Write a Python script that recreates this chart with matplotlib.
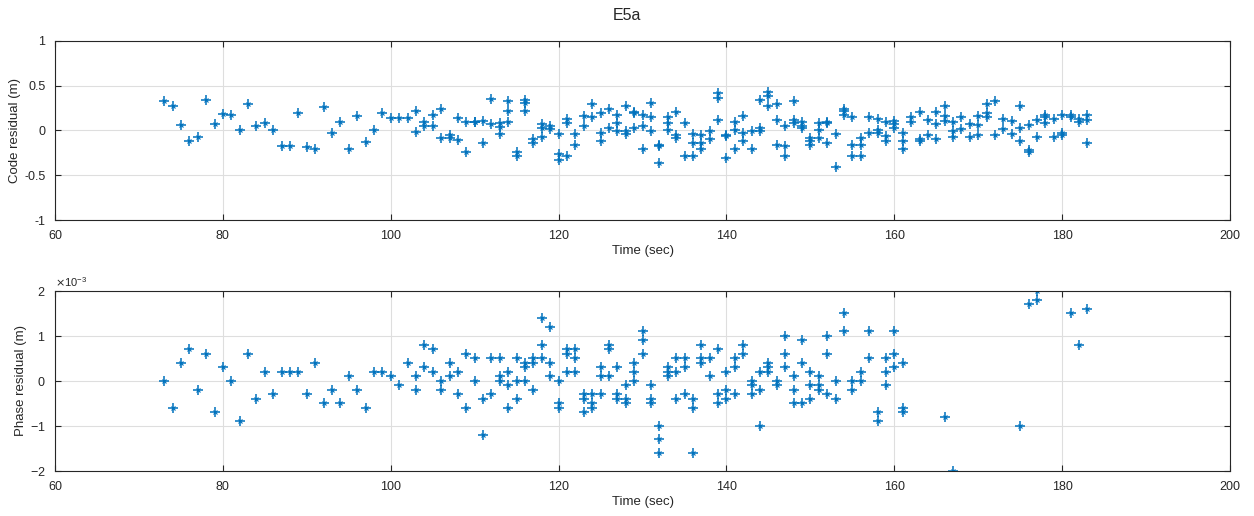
import matplotlib.pyplot as plt
import numpy as np

# residuals per epoch (sec): several satellites can share one epoch
code_epochs = [
    (73, [0.335]), (74, [0.27]), (75, [0.064]), (76, [-0.115]), (77, [-0.078]),
    (78, [0.34]), (79, [0.07]), (80, [0.18]), (81, [0.17]), (82, [0.01]),
    (83, [0.30]), (84, [0.05]), (85, [0.08]), (86, [0.0]), (87, [-0.17]),
    (88, [-0.17]), (89, [0.19]), (90, [-0.18]), (91, [-0.21]), (92, [0.26]),
    (93, [-0.03]), (94, [0.10]), (95, [-0.21]), (96, [0.16]), (97, [-0.13]),
    (98, [0.01]), (99, [0.20]), (100, [0.145]), (101, [0.145]), (102, [0.145]),
    (103, [0.22, -0.02]), (104, [0.10, 0.045]), (105, [0.175, 0.045]),
    (106, [0.24, -0.08]), (107, [-0.05, -0.085]), (108, [0.145, -0.11]),
    (109, [0.09, -0.245]), (110, [0.10, 0.09]), (111, [0.105, -0.14]),
    (112, [0.35, 0.07]), (113, [0.08, 0.04, -0.04]), (114, [0.335, 0.22, 0.09]),
    (115, [-0.235, -0.29]), (116, [0.34, 0.31, 0.22]), (117, [-0.10, -0.14]),
    (118, [0.07, 0.025, -0.07]), (119, [0.045, 0.015]), (120, [-0.04, -0.26, -0.335]),
    (121, [0.13, 0.08, -0.29]), (122, [-0.04, -0.16]), (123, [0.165, 0.05]),
    (124, [0.30, 0.155]), (125, [0.19, -0.03, -0.12]), (126, [0.24, 0.025]),
    (127, [0.175, 0.08, -0.01]), (128, [0.275, -0.01, -0.04]), (129, [0.21, 0.195, 0.025]),
    (130, [0.175, 0.045, -0.21]), (131, [0.31, 0.155, -0.01]), (132, [-0.16, -0.17, -0.36]),
    (133, [0.155, 0.08, 0.01]), (134, [0.21, -0.05, -0.085]), (135, [0.08, -0.29]),
    (136, [-0.04, -0.14, -0.29]), (137, [-0.05, -0.14, -0.21]), (138, [-0.01, -0.10]),
    (139, [0.42, 0.36, 0.12]), (140, [-0.05, -0.065, -0.31]), (141, [0.10, 0.01, -0.21]),
    (142, [0.165, -0.03, -0.115]), (143, [-0.01, -0.21]), (144, [0.34, 0.025, -0.01]),
    (145, [0.425, 0.39, 0.27]), (146, [0.30, 0.12, -0.16]), (147, [0.05, -0.17, -0.29]),
    (148, [0.325, 0.12, 0.08]), (149, [0.10, 0.045, 0.025]), (150, [-0.085, -0.12, -0.16]),
    (151, [0.08, 0.01, -0.085]), (152, [0.10, 0.08, -0.14]), (153, [-0.04, -0.41]),
    (154, [0.24, 0.215, 0.175]), (155, [0.15, -0.16, -0.29]), (156, [-0.085, -0.16, -0.29]),
    (157, [0.155, -0.03]), (158, [0.13, 0.01, -0.03]), (159, [0.09, -0.06, -0.12]),
    (160, [0.105, 0.07, 0.025]), (161, [-0.03, -0.12, -0.21]), (162, [0.15, 0.10]),
    (163, [0.21, -0.10, -0.12]), (164, [0.12, -0.05]), (165, [0.21, 0.07, -0.10]),
    (166, [0.275, 0.165, 0.11]), (167, [0.09, -0.01, -0.075]), (168, [0.15, 0.015]),
    (169, [0.07, -0.075]), (170, [0.165, 0.065, -0.05]), (171, [0.30, 0.19, 0.155]),
    (172, [0.325, -0.05]), (173, [0.13, 0.015]), (174, [0.11, -0.04]),
    (175, [0.275, 0.025, -0.12]), (176, [0.06, -0.22, -0.24]), (177, [0.12, -0.075]),
    (178, [0.175, 0.155, 0.08]), (179, [0.13, -0.075]), (180, [0.17, -0.03, -0.05]),
    (181, [0.17, 0.15]), (182, [0.13, 0.10]), (183, [0.175, 0.12, -0.14]),
]

# phase residuals in mm (scaled to m when plotted)
phase_epochs = [
    (73, [0.0]), (74, [-0.6]), (75, [0.4]), (76, [0.7]), (77, [-0.2]),
    (78, [0.6]), (79, [-0.7]), (80, [0.3]), (81, [0.0]), (82, [-0.9]),
    (83, [0.6]), (84, [-0.4]), (85, [0.2]), (86, [-0.3]), (87, [0.2]),
    (88, [0.2]), (89, [0.2]), (90, [-0.3]), (91, [0.4]), (92, [-0.5]),
    (93, [-0.2]), (94, [-0.5]), (95, [0.1]), (96, [-0.2]), (97, [-0.6]),
    (98, [0.2]), (99, [0.2]), (100, [0.1]), (101, [-0.1]), (102, [0.4]),
    (103, [0.1, -0.2]), (104, [0.8, 0.3]), (105, [0.7, 0.2]), (106, [0.0, -0.2]),
    (107, [0.4, 0.1]), (108, [0.2, -0.3]), (109, [0.6, -0.6]), (110, [0.5, 0.0]),
    (111, [-0.4, -1.2]), (112, [0.5, -0.3]), (113, [0.5, 0.1, 0.0]),
    (114, [0.2, -0.1, -0.6]), (115, [0.5, 0.0, -0.4]), (116, [0.4, 0.3, 0.0]),
    (117, [0.5, 0.4, -0.2]), (118, [1.4, 0.8, 0.5]), (119, [1.2, 0.4, 0.1]),
    (120, [0.0, -0.5, -0.6]), (121, [0.7, 0.6, 0.2]), (122, [0.7, 0.5, 0.2]),
    (123, [-0.3, -0.4, -0.7]), (124, [-0.3, -0.5, -0.6]), (125, [0.3, 0.1, -0.3]),
    (126, [0.8, 0.7, 0.1]), (127, [0.3, -0.3, -0.4]), (128, [-0.1, -0.4, -0.5]),
    (129, [0.4, 0.2, 0.0]), (130, [1.1, 0.9, 0.6]), (131, [-0.1, -0.4, -0.5]),
    (132, [-1.0, -1.3, -1.6]), (133, [0.3, 0.2, 0.1]), (134, [0.5, 0.2, -0.4]),
    (135, [0.5, 0.3, -0.3]), (136, [-0.4, -0.6, -1.6]), (137, [0.8, 0.5, 0.4]),
    (138, [0.5, 0.1]), (139, [0.7, -0.3, -0.5]), (140, [0.2, -0.2, -0.4]),
    (141, [0.5, 0.3, -0.3]), (142, [0.8, 0.6]), (143, [0.0, -0.1, -0.3]),
    (144, [0.2, -0.2, -1.0]), (145, [0.4, 0.3, 0.2]), (146, [0.0, -0.1]),
    (147, [1.0, 0.6, 0.3]), (148, [0.1, -0.2, -0.5]), (149, [0.9, 0.4, -0.5]),
    (150, [0.2, -0.1, -0.4]), (151, [0.1, -0.1, -0.2]), (152, [1.0, 0.6, -0.3]),
    (153, [0.0, -0.4]), (154, [1.5, 1.1]), (155, [0.0, -0.2]), (156, [0.2, 0.0]),
    (157, [1.1, 0.5]), (158, [-0.7, -0.9]), (159, [0.5, 0.2, -0.1]),
    (160, [1.1, 0.6, 0.3]), (161, [0.4, -0.6, -0.7]), (166, [-0.8]), (167, [-2.0]),
    (175, [-1.0]), (176, [1.7]), (177, [2.0, 1.8]), (181, [1.5]), (182, [0.8]),
    (183, [1.6]),
]

x_ticks = [60, 80, 100, 120, 140, 160, 180, 200]
code_yticks = [-1, -0.5, 0, 0.5, 1]
phase_yticks = [-2e-3, -1e-3, 0, 1e-3, 2e-3]


def flatten(epochs, scale=1.0):
    t = np.array([s for s, vals in epochs for _ in vals], dtype=float)
    r = np.array([v for _, vals in epochs for v in vals]) * scale
    return t, r


code_t, code_r = flatten(code_epochs)
phase_t, phase_r = flatten(phase_epochs, 1e-3)

plt.rcParams['font.family'] = ['Liberation Sans', 'DejaVu Sans']
axcol = '#262626'
blue = '#0072BD'

fig = plt.figure(figsize=(12.54, 5.16), dpi=100)
ax1 = fig.add_axes([0.0439, 0.5736, 0.937, 0.347])
ax2 = fig.add_axes([0.0439, 0.0872, 0.937, 0.349])


def style(ax, yticks, ylabel):
    ax.set_xlim(60, 200)
    ax.set_xticks(x_ticks)
    ax.set_ylim(yticks[0], yticks[-1])
    ax.set_yticks(yticks)
    ax.grid(True, color='#dedede', linewidth=0.8)
    ax.set_axisbelow(True)
    ax.tick_params(direction='in', top=True, right=True, length=4,
                   colors=axcol, labelsize=9, width=0.8)
    ax.tick_params(axis='x', pad=7)
    ax.tick_params(axis='y', pad=7)
    for sp in ax.spines.values():
        sp.set_color(axcol)
        sp.set_linewidth(0.8)
    ax.set_xlabel('Time (sec)', fontsize=9.5, color=axcol, labelpad=2)
    ax.set_ylabel(ylabel, fontsize=9.5, color=axcol, labelpad=2)


def stars(ax, t, r):
    # MATLAB-like asterisk: a plus with a smaller cross over it
    ax.plot(t, r, '+', color=blue, ms=6.5, mew=1.1, ls='none')
    ax.plot(t, r, 'x', color=blue, ms=3.2, mew=0.8, ls='none')


stars(ax1, code_t, code_r)
style(ax1, code_yticks, 'Code residual (m)')
ax1.set_yticklabels(['-1', '-0.5', '0', '0.5', '1'])

stars(ax2, phase_t, phase_r)
style(ax2, phase_yticks, 'Phase residual (m)')
ax2.ticklabel_format(axis='y', style='sci', scilimits=(0, 0), useMathText=True)
ax2.yaxis.get_offset_text().set_fontsize(8)
ax2.yaxis.get_offset_text().set_color(axcol)

fig.suptitle('E5a', fontsize=11.5, color=axcol, y=0.985)

fig.savefig('out.png', dpi=100)
